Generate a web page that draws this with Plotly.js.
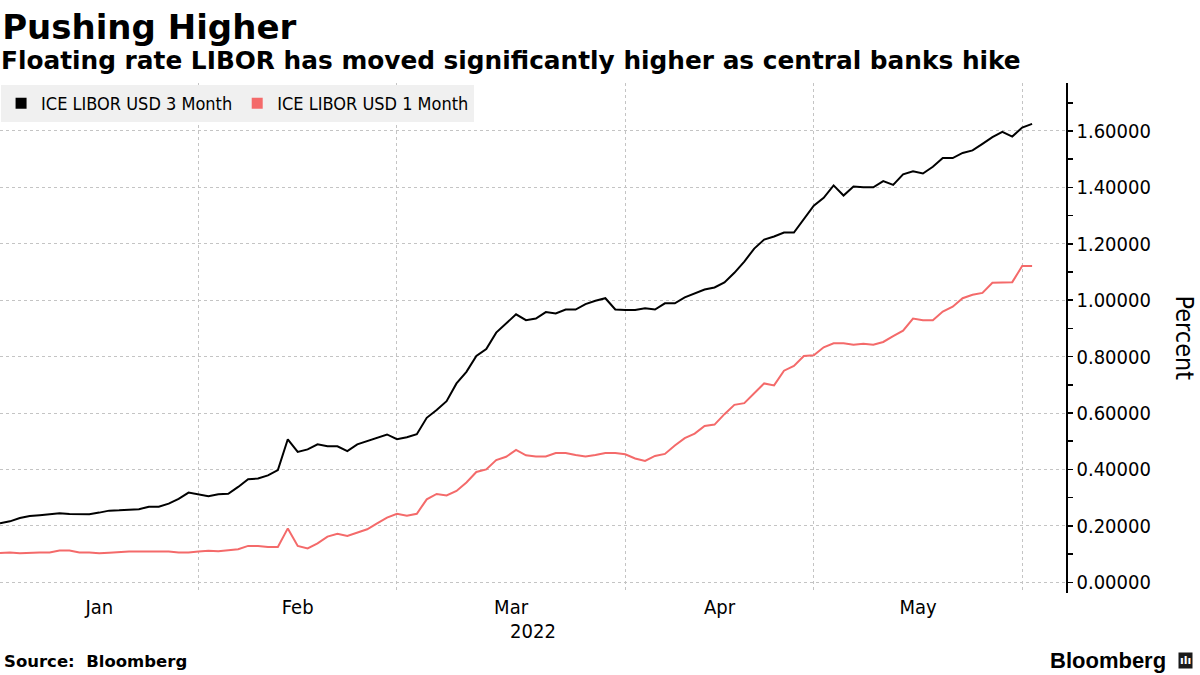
<!DOCTYPE html>
<html>
<head>
<meta charset="utf-8">
<script src="https://cdn.plot.ly/plotly-3.0.1.min.js"></script>
<style>
  html, body { margin: 0; padding: 0; background: #ffffff; }
  #chart { width: 1200px; height: 675px; }
</style>
</head>
<body>
<div id="chart"></div>
<script>
// Trading days (London fixings), Jan 4 – Jun 6, 2022
const dates = [
  '2022-01-04','2022-01-05','2022-01-06','2022-01-07','2022-01-10','2022-01-11','2022-01-12','2022-01-13','2022-01-14','2022-01-17',
  '2022-01-18','2022-01-19','2022-01-20','2022-01-21','2022-01-24','2022-01-25','2022-01-26','2022-01-27','2022-01-28','2022-01-31',
  '2022-02-01','2022-02-02','2022-02-03','2022-02-04','2022-02-07','2022-02-08','2022-02-09','2022-02-10','2022-02-11','2022-02-14',
  '2022-02-15','2022-02-16','2022-02-17','2022-02-18','2022-02-21','2022-02-22','2022-02-23','2022-02-24','2022-02-25','2022-02-28',
  '2022-03-01','2022-03-02','2022-03-03','2022-03-04','2022-03-07','2022-03-08','2022-03-09','2022-03-10','2022-03-11','2022-03-14',
  '2022-03-15','2022-03-16','2022-03-17','2022-03-18','2022-03-21','2022-03-22','2022-03-23','2022-03-24','2022-03-25','2022-03-28',
  '2022-03-29','2022-03-30','2022-03-31',
  '2022-04-01','2022-04-04','2022-04-05','2022-04-06','2022-04-07','2022-04-08','2022-04-11','2022-04-12','2022-04-13','2022-04-14',
  '2022-04-19','2022-04-20','2022-04-21','2022-04-22','2022-04-25','2022-04-26','2022-04-27','2022-04-28','2022-04-29',
  '2022-05-03','2022-05-04','2022-05-05','2022-05-06','2022-05-09','2022-05-10','2022-05-11','2022-05-12','2022-05-13','2022-05-16',
  '2022-05-17','2022-05-18','2022-05-19','2022-05-20','2022-05-23','2022-05-24','2022-05-25','2022-05-26','2022-05-27','2022-05-30',
  '2022-05-31','2022-06-01','2022-06-06'
];

// Non-fixing weekdays (UK bank holidays) removed from the axis
const holidays = ['2022-01-03','2022-04-15','2022-04-18','2022-05-02','2022-06-02','2022-06-03'];

// First trading day of each month (month gridlines)
const monthStarts = ['2022-01-04', '2022-02-01', '2022-03-01', '2022-04-01', '2022-05-03', '2022-06-01'];

// Month labels, each placed mid-month on the trading-day axis
const monthLabels = ['Jan', 'Feb', 'Mar', 'Apr', 'May'];
const monthLabelDates = ['2022-01-18', '2022-02-15', '2022-03-16 12:00', '2022-04-14 12:00', '2022-05-17 12:00'];

// ICE LIBOR USD 3 Month (%)
const libor3m = [
  0.209,0.216,0.228,0.235,0.238,0.242,0.245,0.242,0.241,0.241,
  0.247,0.254,0.255,0.257,0.259,0.268,0.268,0.279,0.296,0.318,
  0.311,0.305,0.312,0.314,0.338,0.365,0.368,0.379,0.398,0.507,
  0.462,0.471,0.489,0.482,0.482,0.465,0.489,0.500,0.511,0.524,
  0.507,0.514,0.525,0.583,0.611,0.642,0.705,0.746,0.802,0.827,
  0.885,0.918,0.950,0.929,0.935,0.958,0.953,0.967,0.967,0.986,
  0.998,1.007,0.967,
  0.965,0.965,0.971,0.967,0.989,0.989,1.010,1.024,1.038,1.045,
  1.063,1.097,1.137,1.183,1.215,1.226,1.240,1.240,1.286,
  1.335,1.363,1.407,1.371,1.403,1.400,1.400,1.422,1.409,1.446,
  1.457,1.449,1.473,1.504,1.504,1.522,1.531,1.554,1.578,1.597,
  1.580,1.612,1.625
];

// ICE LIBOR USD 1 Month (%)
const libor1m = [
  0.104,0.106,0.103,0.105,0.106,0.106,0.113,0.113,0.106,0.106,
  0.103,0.105,0.108,0.109,0.109,0.109,0.109,0.109,0.106,0.106,
  0.109,0.112,0.110,0.113,0.117,0.129,0.129,0.125,0.125,0.191,
  0.129,0.120,0.138,0.162,0.172,0.164,0.177,0.188,0.209,0.229,
  0.243,0.236,0.243,0.294,0.313,0.308,0.324,0.354,0.391,0.400,
  0.433,0.445,0.469,0.450,0.446,0.446,0.458,0.458,0.451,0.446,
  0.451,0.458,0.458,
  0.454,0.439,0.430,0.448,0.455,0.485,0.511,0.527,0.554,0.559,
  0.596,0.629,0.635,0.670,0.705,0.698,0.750,0.767,0.802,
  0.805,0.833,0.847,0.847,0.842,0.846,0.842,0.852,0.873,0.892,
  0.935,0.929,0.929,0.960,0.977,1.007,1.019,1.026,1.062,1.064,
  1.064,1.121,1.121
];

const seriesNames = ['ICE LIBOR USD 3 Month', 'ICE LIBOR USD 1 Month'];
const seriesColors = ['#000000', '#f46a6a'];

const axisFont = 'DejaVu Sans Condensed, DejaVu Sans, sans-serif';
const boldFont = 'DejaVu Sans, sans-serif';
const gridColor = '#c4c4c4';

const traces = [
  { x: dates, y: libor1m, type: 'scatter', mode: 'lines', name: seriesNames[1],
    line: { color: seriesColors[1], width: 2 }, showlegend: false, hoverinfo: 'skip' },
  { x: dates, y: libor3m, type: 'scatter', mode: 'lines', name: seriesNames[0],
    line: { color: seriesColors[0], width: 2 }, showlegend: false, hoverinfo: 'skip' },
  // legend-only entries (square swatches)
  { x: [null], y: [null], type: 'scatter', mode: 'markers', name: seriesNames[0],
    marker: { color: seriesColors[0], symbol: 'square', size: 11 }, showlegend: true },
  { x: [null], y: [null], type: 'scatter', mode: 'markers', name: seriesNames[1],
    marker: { color: seriesColors[1], symbol: 'square', size: 11 }, showlegend: true }
];

const layout = {
  width: 1200, height: 675,
  margin: { l: 0, r: 134, t: 83, b: 82, pad: 0, autoexpand: false },
  paper_bgcolor: '#ffffff', plot_bgcolor: '#ffffff',
  font: { family: axisFont, color: '#000000', size: 20 },
  title: {
    text: '<b>Pushing Higher</b>',
    font: { family: boldFont, size: 34, color: '#000000' },
    x: 0.002, xref: 'paper', xanchor: 'left',
    y: 0.978, yref: 'container', yanchor: 'top'
  },
  showlegend: true,
  legend: {
    orientation: 'h', x: 0.001, xanchor: 'left', y: 0.996, yanchor: 'top',
    bgcolor: '#f0f0f0', borderwidth: 0,
    font: { family: axisFont, size: 18, color: '#000000' },
    itemclick: false, traceorder: 'normal'
  },
  xaxis: {
    type: 'date',
    range: ['2022-01-04', '2022-06-09 10:00'],
    rangebreaks: [ { bounds: ['sat', 'mon'] }, { values: holidays } ],
    tickmode: 'array', tickvals: monthLabelDates, ticktext: monthLabels,
    ticks: '', showline: false, zeroline: false, showgrid: false,
    minor: { tickmode: 'array', tickvals: monthStarts, ticks: '', showgrid: true,
             gridcolor: gridColor, griddash: 'dot', gridwidth: 1 },
    tickfont: { family: axisFont, size: 20, color: '#000000' },
    title: { text: '2022', font: { family: axisFont, size: 20, color: '#000000' }, standoff: 4 },
    automargin: false,
    fixedrange: true
  },
  yaxis: {
    side: 'right',
    range: [-0.038, 1.77],
    tick0: 0, dtick: 0.2, tickformat: '.5f',
    ticks: 'outside', ticklen: 5, tickwidth: 1.5, tickcolor: '#000000',
    showline: true, linecolor: '#000000', linewidth: 1.5,
    showgrid: true, gridcolor: gridColor, griddash: 'dot', gridwidth: 1,
    zeroline: false,
    minor: { dtick: 0.1, ticks: 'outside', ticklen: 5, tickwidth: 1.5, tickcolor: '#000000', showgrid: false },
    tickfont: { family: axisFont, size: 20, color: '#000000' },
    automargin: false,
    fixedrange: true
  },
  annotations: [
    { text: '<b>Floating rate LIBOR has moved significantly higher as central banks hike</b>',
      xref: 'paper', yref: 'paper', x: -0.001, y: 1.045, xanchor: 'left', yanchor: 'middle',
      showarrow: false, font: { family: boldFont, size: 24.8, color: '#000000' } },
    { text: 'Percent', textangle: 90,
      xref: 'paper', yref: 'paper', x: 1.112, y: 0.5, xanchor: 'center', yanchor: 'middle',
      showarrow: false, font: { family: axisFont, size: 25, color: '#000000' } },
    { text: '<b>Source:  Bloomberg</b>',
      xref: 'paper', yref: 'paper', x: 0.002, y: -0.135, xanchor: 'left', yanchor: 'middle',
      showarrow: false, font: { family: boldFont, size: 16.5, color: '#000000' } },
    { text: '<b>Bloomberg</b>',
      xref: 'paper', yref: 'paper', x: 1.096, y: -0.133, xanchor: 'right', yanchor: 'middle',
      showarrow: false, font: { family: 'Liberation Sans, Arial, sans-serif', size: 22, color: '#000000' } },
    { text: '<b>ılı</b>',
      xref: 'paper', yref: 'paper', x: 1.112, y: -0.133, xanchor: 'center', yanchor: 'middle',
      showarrow: false, bgcolor: '#1a1a1a', borderpad: 1,
      font: { family: 'DejaVu Sans, sans-serif', size: 11, color: '#ffffff' } }
  ]
};

Plotly.newPlot('chart', traces, layout, { displayModeBar: false, staticPlot: true });
</script>
</body>
</html>
